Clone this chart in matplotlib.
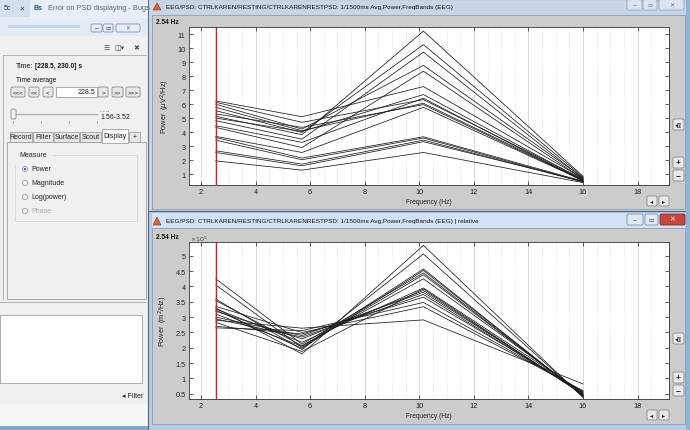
import matplotlib
matplotlib.use('Agg')
import matplotlib.pyplot as plt
from matplotlib.patches import Rectangle, FancyBboxPatch, Circle, Polygon
from matplotlib.ticker import MultipleLocator, FuncFormatter

plt.rcParams['font.family'] = ['Liberation Sans', 'DejaVu Sans']

W, H = 690, 431

# ---------------- data ----------------
band_freqs = [2.54, 5.7, 10.15, 16.0]      # Hz, centre of each frequency band
cursor_freq = 2.54                          # red time/frequency cursor

# absolute power, uV^2/Hz, one value per channel for each band
abs_delta = [6.23, 6.13, 5.99, 5.77, 5.53, 5.30, 5.13, 5.00, 4.82, 4.46, 4.34, 3.70, 3.62, 3.43, 2.67, 2.55, 1.95]
abs_theta = [5.10, 4.70, 4.22, 4.10, 3.98, 4.34, 3.82, 4.05, 3.50, 3.27, 2.90, 2.55, 2.15, 2.03, 1.72, 1.60, 1.29]
abs_alpha = [7.25, 6.32, 8.76, 6.06, 10.24, 5.96, 11.21, 6.68, 9.71, 6.42, 8.35, 5.77, 3.67, 3.58, 3.43, 3.32, 2.55]
abs_beta = [0.70, 0.65, 0.75, 0.60, 0.80, 0.55, 0.85, 0.60, 0.70, 0.50, 0.65, 0.55, 0.50, 0.45, 0.45, 0.50, 0.40]

# relative power, x 1e5
rel_delta = [4.25, 4.05, 3.59, 3.54, 3.30, 3.27, 3.23, 3.19, 3.10, 3.00, 2.94, 2.83, 2.70, 2.65, 3.35, 2.90]
rel_theta = [2.12, 2.01, 1.94, 2.07, 1.80, 2.18, 1.98, 2.29, 2.05, 2.40, 2.35, 1.88, 2.45, 2.56, 2.50, 2.64]
rel_alpha = [4.44, 4.57, 5.06, 4.25, 5.34, 3.95, 4.52, 3.87, 4.38, 3.81, 3.74, 3.92, 3.65, 3.48, 3.34, 2.91]
rel_beta = [0.45, 0.42, 0.40, 0.50, 0.38, 0.55, 0.44, 0.48, 0.46, 0.52, 0.50, 0.47, 0.56, 0.58, 0.60, 0.82]

x_ticks = [2, 4, 6, 8, 10, 12, 14, 16, 18]
abs_yticks = [1, 2, 3, 4, 5, 6, 7, 8, 9, 10, 11]
rel_yticks = [0.5, 1, 1.5, 2, 2.5, 3, 3.5, 4, 4.5, 5]

title_top = 'EEG/PSD: CTRLKAREN/RESTING/CTRLKARENRESTPSD: 1/1500ms Avg,Power,FreqBands (EEG)'
title_bot = title_top + ' | relative'

# ---------------- figure / background "screen" ----------------
fig = plt.figure(figsize=(W / 100, H / 100), dpi=100)
bg = fig.add_axes([0, 0, 1, 1], zorder=0)
bg.set_xlim(0, W)
bg.set_ylim(H, 0)
bg.axis('off')


def rect(x0, y0, x1, y1, fc, ec='none', lw=0.7, z=1, round_=False):
    if round_:
        p = FancyBboxPatch((x0, y0), x1 - x0, y1 - y0,
                           boxstyle='round,pad=0,rounding_size=1.5',
                           fc=fc, ec=ec, lw=lw, zorder=z)
    else:
        p = Rectangle((x0, y0), x1 - x0, y1 - y0, fc=fc, ec=ec, lw=lw, zorder=z)
    bg.add_patch(p)


def txt(x, y, s, size=5.5, z=5, **kw):
    kw.setdefault('va', 'center')
    bg.text(x, y, s, fontsize=size, zorder=z, **kw)


def button(x0, y0, x1, y1, label='', size=5, fc='#e8e8e8', ec='#8a8a8a', color='#222', weight='normal'):
    rect(x0, y0, x1, y1, fc, ec, lw=0.6, z=3, round_=True)
    if label:
        txt((x0 + x1) / 2, (y0 + y1) / 2, label, size=size, ha='center', color=color, weight=weight)


# left panel (Brainstorm)
rect(0, 0, 150, H, '#f0f0f0', z=0.5)
rect(0, 0, 150, 18, '#e8eff8', z=1)
rect(0, 0, 30, 18, '#d4e0ee', z=1)
txt(4, 9, '5c', color='#333', size=5)
txt(19, 9, '×', color='#333', size=6)
txt(34, 8.5, 'Bs', size=5, color='#1f4e8c', weight='bold')
txt(48, 9, 'Error on PSD displaying - Bugs', color='#666', size=5.3)
rect(0, 19, 150, 37, '#e4ebf4', z=1)
rect(8, 26, 80, 29, '#c6d4e8', z=1.5)
button(91, 25, 102, 33, '–', size=5, fc='#e6edf5', ec='#8797ab')
button(103, 25, 113, 33, '▭', size=4, fc='#e6edf5', ec='#8797ab')
button(116, 25, 140, 33, '✕', size=4, fc='#e6edf5', ec='#8797ab', color='#666')
txt(103, 48, '☰', size=5, color='#555', family='DejaVu Sans')
txt(114, 48, '◫▾', size=5, color='#555', family='DejaVu Sans')
txt(133, 48, '✖', size=5, color='#555', family='DejaVu Sans')
bg.plot([3, 146], [56, 56], color='#a8a8a8', lw=0.6, zorder=2)
bg.plot([3, 3], [56, 300], color='#a8a8a8', lw=0.6, zorder=2)
txt(16, 66, 'Time:', color='#111', size=5)
txt(35, 66, '[228.5, 230.0] s', color='#111', weight='bold', size=4.8)
txt(16, 80, 'Time average', color='#111', size=4.8)
for (a, b, lab) in [(11, 25, '<<<'), (29, 39, '<<'), (43, 53, '<'),
                    (98, 108, '>'), (112, 123, '>>'), (126, 140, '>>>')]:
    button(a, 88, b, 98, lab, size=4.5)
rect(56, 88, 97, 98, 'white', '#9a9a9a', lw=0.6, z=3)
txt(95, 93, '228.5', size=5, ha='right', color='#222')
bg.plot([13, 97], [115, 115], color='#b0b0b0', lw=1.0, zorder=3)
rect(11, 110, 16, 120, '#f4f4f4', '#888', lw=0.6, z=4, round_=True)
for tx in [13, 41, 69, 97]:
    bg.plot([tx, tx], [122, 124], color='#999', lw=0.6, zorder=3)
txt(100, 112, '- - --', size=3.5, color='#444')
txt(100, 118, '1.56-3.52', size=5, color='#222')
rect(7, 143, 146, 300, '#f0f0f0', '#a0a0a0', lw=0.6, z=2)
for (a, b, lab) in [(10, 32, 'Record'), (33, 53, 'Filter'), (54, 79, 'Surface'),
                    (80, 101, 'Scout'), (129, 140, '+')]:
    rect(a, 133, b, 143, '#e6e6e6', '#a0a0a0', lw=0.6, z=3)
    txt((a + b) / 2, 138, lab, size=5, ha='center', color='#222')
rect(102, 130, 128, 143.5, '#fafafa', '#a0a0a0', lw=0.6, z=3.5)
txt(115, 136.5, 'Display', size=5, ha='center', color='#222', z=6)
rect(15, 156, 137, 222, 'none', '#d3dbe2', lw=0.6, z=3)
txt(19, 156, 'Measure', size=5, color='#222', backgroundcolor='#f0f0f0')
radio_items = ['Power', 'Magnitude', 'Log(power)', 'Phase']
for i, lab in enumerate(radio_items):
    yy = 170 + 14 * i
    col = '#aaaaaa' if lab == 'Phase' else '#222'
    bg.add_patch(Circle((25, yy), 2.6, fc='white', ec='#9a9a9a', lw=0.6, zorder=4))
    if i == 0:
        bg.add_patch(Circle((25, yy), 1.3, fc='#3d6fb5', ec='none', zorder=5))
    txt(31, yy, lab, size=5, color=col)
bg.plot([0, 146], [303, 303], color='#a8a8a8', lw=0.6, zorder=2)
rect(0, 316, 142, 384, 'white', '#a0a0a0', lw=0.6, z=2)
txt(122, 397, '◂ Filter', size=5, color='#222')
rect(0, 405, 148, H, '#f6f6f6', z=1)
rect(0, 427, 148, H, '#7ea6cf', z=1.2)

# ---------------- figure windows ----------------
# top (inactive) window
rect(148, 0, 690, 212, '#c7d5e6', '#5f7085', lw=0.8, z=1)
rect(686, 0, 690, H, '#8fb2d6', z=1.1)
bg.add_patch(Polygon([(153, 11), (157, 4), (161, 11)], closed=True, fc='#d7662a', ec='#8a3010', lw=0.4, zorder=3))
txt(166, 8, title_top, size=4.6, color='#111')
button(627, 0.5, 642, 11, '–', size=5, fc='#dbe5f1', ec='#95a5b9', color='#777')
button(643, 0.5, 657, 11, '▭', size=4, fc='#dbe5f1', ec='#95a5b9', color='#777')
button(659, 0.5, 684, 11, '✕', size=4.5, fc='#dbe5f1', ec='#95a5b9', color='#777')
rect(152, 16, 685, 210, '#cccccc', '#8d9db1', lw=0.6, z=1.5)
txt(156, 23, '2.54 Hz', size=4.8, weight='bold', color='#111')
button(673, 120, 684, 131, '◂▥', size=3.5)
button(673, 158, 684, 169, '+', size=6, weight='bold')
button(673, 171, 684, 182, '−', size=6, weight='bold')
button(647, 197, 657, 207, '◂', size=4.5)
button(659, 197, 669, 207, '▸', size=4.5)

# bottom (active) window
rect(148, 212, 690, H + 2, '#b5cce7', '#4f6176', lw=0.8, z=1)
rect(152, 214, 685, 229, '#d2e2f4', z=1.2)
bg.add_patch(Polygon([(153, 226), (157, 218), (161, 226)], closed=True, fc='#d7662a', ec='#8a3010', lw=0.4, zorder=3))
txt(166, 222, title_bot, size=4.6, color='#111')
button(627, 215, 643, 226, '–', size=5, fc='#dfe8f3', ec='#7f91a7', color='#333')
button(645, 215, 658, 226, '▭', size=4, fc='#dfe8f3', ec='#7f91a7', color='#333')
button(660, 215, 685, 226, '✕', size=5, fc='#c8463c', ec='#7a2a22', color='white', weight='bold')
rect(152, 229, 685, 425, '#cccccc', '#8d9db1', lw=0.6, z=1.5)
txt(156, 238, '2.54 Hz', size=4.8, weight='bold', color='#111')
button(673, 334, 684, 345, '◂▥', size=3.5)
button(673, 373, 684, 384, '+', size=6, weight='bold')
button(673, 386, 684, 397, '−', size=6, weight='bold')
button(647, 411, 657, 421, '◂', size=4.5)
button(659, 411, 669, 421, '▸', size=4.5)
txt(190, 239.5, r'$\times10^5$', size=4.5, color='#444')


# ---------------- the two PSD axes ----------------
def px_axes(x0, y0, x1, y1):
    return fig.add_axes([x0 / W, 1 - y1 / H, (x1 - x0) / W, (y1 - y0) / H], zorder=5)


def style(ax, yticks, ylim, ylabel):
    ax.set_facecolor('white')
    ax.set_xlim(1.56, 19.15)
    ax.set_ylim(*ylim)
    ax.set_xticks(x_ticks)
    ax.set_yticks(yticks)
    ax.yaxis.set_major_formatter(FuncFormatter(lambda v, p: f'{v:g}'))
    ax.xaxis.set_minor_locator(MultipleLocator(0.5))
    ax.grid(True, which='major', axis='x', color='#d6d6d6', lw=0.6)
    ax.grid(True, which='minor', axis='x', color='#cfcfcf', lw=0.5, ls=(0, (1, 2)))
    ax.tick_params(which='major', direction='in', length=3, width=0.5,
                   top=True, right=True, labelsize=5.3, pad=2.5, colors='#222')
    ax.tick_params(which='minor', length=0)
    for s in ax.spines.values():
        s.set_linewidth(0.6)
        s.set_color('#333')
    ax.set_xlabel('Frequency (Hz)', fontsize=4.8, labelpad=1.5, color='#222')
    ax.set_ylabel(ylabel, fontsize=5.2, labelpad=4, color='#222')
    ax.set_axisbelow(True)


ax1 = px_axes(189, 28, 669, 186)
style(ax1, abs_yticks, (0.23, 11.5), r'Power  ($\mu$V$^2$/Hz)')
for vals in zip(abs_delta, abs_theta, abs_alpha, abs_beta):
    ax1.plot(band_freqs, vals, color='#1c1c1c', lw=0.55)
ax1.axvline(cursor_freq, color='#c0282d', lw=1.0)

ax2 = px_axes(189, 243, 669, 400)
style(ax2, rel_yticks, (0.33, 5.45), r'Power  (m$^2$/Hz)')
for vals in zip(rel_delta, rel_theta, rel_alpha, rel_beta):
    ax2.plot(band_freqs, vals, color='#1c1c1c', lw=0.55)
ax2.axvline(cursor_freq, color='#c0282d', lw=1.0)

fig.savefig('out.png', dpi=100)
